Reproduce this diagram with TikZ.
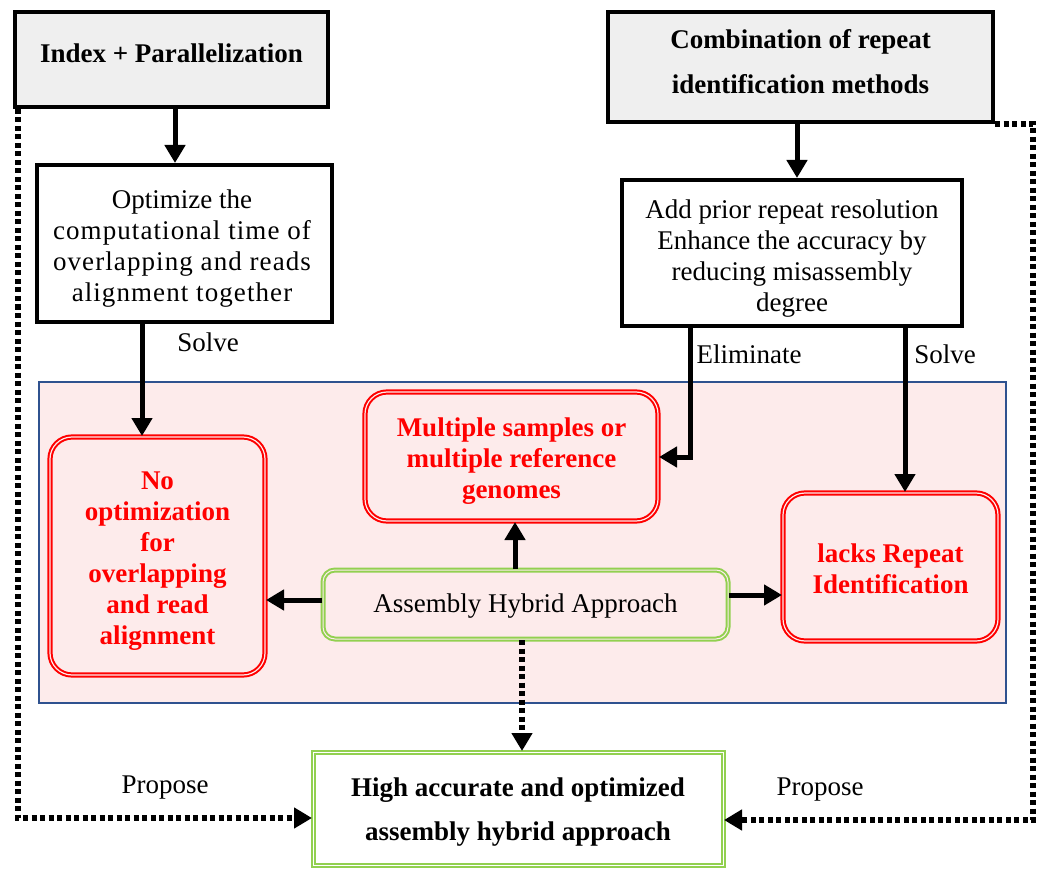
\documentclass[tikz,border=0pt]{standalone}
\usepackage{fontspec}
\setmainfont{Liberation Serif}
\newfontfamily\widefont[LetterSpace=4]{Liberation Serif}
\usetikzlibrary{arrows.meta}
\definecolor{boxgray}{HTML}{EFEFEF}
\definecolor{zonepink}{HTML}{FDEBEB}
\definecolor{zoneblue}{HTML}{2F528F}
\definecolor{leafgreen}{HTML}{92D050}
\definecolor{alarmred}{HTML}{FF0000}
\tikzset{
  % shapes
  topbox/.style={draw=black, line width=4pt, fill=boxgray, inner sep=0pt},
  plainbox/.style={draw=black, line width=4pt, fill=white, inner sep=0pt},
  redbox/.style={draw=alarmred, double=zonepink, double distance=1.2pt, line width=2pt, rounded corners=22pt, inner sep=0pt},
  greenbox/.style={draw=leafgreen, double=zonepink, double distance=1pt, line width=2pt, rounded corners=12pt, fill=zonepink, inner sep=0pt},
  goalbox/.style={draw=leafgreen, double=white, double distance=1pt, line width=2pt, fill=white, inner sep=0pt},
  % texts
  txt/.style={font=\fontsize{27}{31}\selectfont, align=center, inner sep=0pt},
  toptext/.style={font=\fontsize{27}{45}\selectfont\bfseries, align=center, inner sep=0pt},
  redtext/.style={font=\fontsize{27}{31}\selectfont\bfseries, text=alarmred, align=center, inner sep=0pt},
  goaltext/.style={font=\fontsize{27}{44}\selectfont\bfseries, align=center, inner sep=0pt},
  lbl/.style={font=\fontsize{27}{30}\selectfont, inner sep=0pt},
  % connectors
  flow/.style={line width=5pt, -{Triangle[length=18pt,width=20pt]}},
  dotflow/.style={line width=5.5pt, dash pattern=on 5pt off 3.5pt, -{Triangle[length=18pt,width=20pt]}},
}
\begin{document}
\begin{tikzpicture}[x=1pt,y=-1pt]
\useasboundingbox (0,0) rectangle (1042,869);

% background zone of current limitations
\node[draw=zoneblue, line width=2.2pt, fill=zonepink, minimum width=967pt, minimum height=321pt, anchor=north west, inner sep=0pt] (zone) at (38,381) {};

% top boxes
\node[topbox, minimum width=313pt, minimum height=95pt] (idx) at (171.5,59.5) {};
\node[toptext] (idxtext) at (171.5,53) {Index + Parallelization};
\node[topbox, minimum width=385pt, minimum height=110pt] (comb) at (800.5,67) {};
\node[toptext] (combtext) at (800.5,62) {Combination of repeat\\identification methods};

% description boxes
\node[plainbox, minimum width=295pt, minimum height=157pt] (opt) at (184.5,243.5) {};
\node[txt] (opttext) at (182,249) {Optimize the\\{\widefont computational time of}\\{\widefont overlapping and reads}\\{\widefont alignment together}};
\node[plainbox, minimum width=340pt, minimum height=146pt] (prior) at (792,253) {};
\node[txt] (priortext) at (792,259) {Add prior repeat resolution\\Enhance the accuracy by\\reducing misassembly\\degree};

% limitations
\node[redbox, minimum width=215pt, minimum height=238pt] (noopt) at (157.5,556) {};
\node[redtext] (nooptext) at (157.5,561) {No\\optimization\\for\\overlapping\\and read\\alignment};
\node[redbox, minimum width=293pt, minimum height=129pt] (multi) at (511.5,456.5) {};
\node[redtext] (multitext) at (511.5,461) {Multiple samples or\\multiple reference\\genomes};
\node[redbox, minimum width=215pt, minimum height=148pt] (lacks) at (890.5,567) {};
\node[redtext] (lackstext) at (890.5,569) {lacks Repeat\\Identification};

% central approach
\node[greenbox, minimum width=405pt, minimum height=69pt] (hyb) at (525.5,604.5) {};
\node[txt] (hybtext) at (525.5,606.5) {Assembly Hybrid Approach};

% goal
\node[goalbox, minimum width=410pt, minimum height=113pt] (goal) at (518,808.5) {};
\node[goaltext] (goaltext) at (518,812) {High accurate and optimized\\assembly hybrid approach};

% solid connectors
\draw[flow] (idx.south -| 175,0) -- (opt.north -| 175,0);
\draw[flow] (comb.south -| 797,0) -- (prior.north -| 797,0);
\draw[flow] (opt.south -| 142,0) -- (noopt.north -| 142,0);
\draw[flow] (prior.south -| 690,0) -- (690,457) -- (multi.east |- 0,457);
\draw[flow] (prior.south -| 905,0) -- (lacks.north -| 905,0);
\draw[flow] (hyb.west |- 0,600) -- (noopt.east |- 0,600);
\draw[flow] (hyb.north -| 515,0) -- (multi.south -| 515,0);
\draw[flow] (hyb.east |- 0,595) -- (lacks.west |- 0,595);

% dotted connectors
\draw[dotflow] (hyb.south -| 522,0) -- (goal.north -| 522,0);
\coordinate (lc) at (18,818);
\draw[dotflow] (idx.south west -| 18,0) -- (lc) -- (goal.west |- lc);
\coordinate (rt) at (1033,124);
\coordinate (rb) at (1033,820);
\draw[dotflow] (comb.south east |- rt) -- (rt) -- (rb) -- (goal.east |- rb);

% labels
\node[lbl] (s1) at (208,342) {Solve};
\node[lbl] (el) at (749,354) {Eliminate};
\node[lbl] (s2) at (945,354) {Solve};
\node[lbl] (p1) at (165,788) {Propose};
\node[lbl] (p2) at (820,790) {Propose};
\end{tikzpicture}
\end{document}
